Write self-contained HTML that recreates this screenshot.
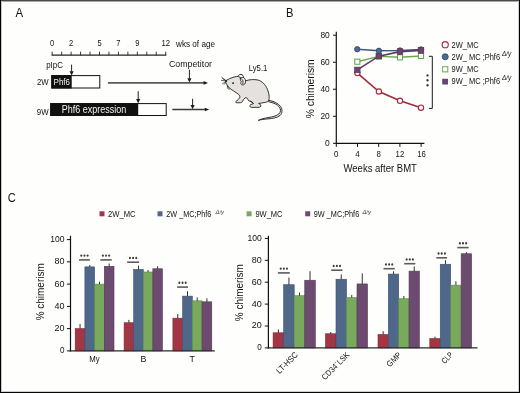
<!DOCTYPE html>
<html><head><meta charset="utf-8"><title>figure</title>
<style>
html,body{margin:0;padding:0;background:#fefefc;}
body{width:520px;height:393px;overflow:hidden;position:relative;}
svg{position:absolute;left:0;top:0;display:block;font-family:"Liberation Sans", sans-serif;will-change:transform;}
.b{position:absolute;}
</style></head><body>
<svg width="520" height="393" viewBox="0 0 520 393">
<text x="15.6" y="16.8" font-size="12.2" text-anchor="start" fill="#121212" textLength="7.6" lengthAdjust="spacingAndGlyphs" >A</text>
<line x1="51.6" y1="55.2" x2="166.32000000000002" y2="55.2" stroke="#222" stroke-width="1.2"/>
<line x1="52.2" y1="55.2" x2="52.2" y2="51.7" stroke="#222" stroke-width="0.9"/>
<line x1="61.66" y1="55.2" x2="61.66" y2="51.7" stroke="#222" stroke-width="0.9"/>
<line x1="71.12" y1="55.2" x2="71.12" y2="51.7" stroke="#222" stroke-width="0.9"/>
<line x1="80.58" y1="55.2" x2="80.58" y2="51.7" stroke="#222" stroke-width="0.9"/>
<line x1="90.04" y1="55.2" x2="90.04" y2="51.7" stroke="#222" stroke-width="0.9"/>
<line x1="99.5" y1="55.2" x2="99.5" y2="51.7" stroke="#222" stroke-width="0.9"/>
<line x1="108.96" y1="55.2" x2="108.96" y2="51.7" stroke="#222" stroke-width="0.9"/>
<line x1="118.42" y1="55.2" x2="118.42" y2="51.7" stroke="#222" stroke-width="0.9"/>
<line x1="127.88" y1="55.2" x2="127.88" y2="51.7" stroke="#222" stroke-width="0.9"/>
<line x1="137.34" y1="55.2" x2="137.34" y2="51.7" stroke="#222" stroke-width="0.9"/>
<line x1="146.8" y1="55.2" x2="146.8" y2="51.7" stroke="#222" stroke-width="0.9"/>
<line x1="156.26" y1="55.2" x2="156.26" y2="51.7" stroke="#222" stroke-width="0.9"/>
<line x1="165.72" y1="55.2" x2="165.72" y2="51.7" stroke="#222" stroke-width="0.9"/>
<text x="52.2" y="46" font-size="8.8" text-anchor="middle" fill="#121212" textLength="4.2" lengthAdjust="spacingAndGlyphs" >0</text>
<text x="71.12" y="46" font-size="8.8" text-anchor="middle" fill="#121212" textLength="4.2" lengthAdjust="spacingAndGlyphs" >2</text>
<text x="99.5" y="46" font-size="8.8" text-anchor="middle" fill="#121212" textLength="4.2" lengthAdjust="spacingAndGlyphs" >5</text>
<text x="118.42" y="46" font-size="8.8" text-anchor="middle" fill="#121212" textLength="4.2" lengthAdjust="spacingAndGlyphs" >7</text>
<text x="137.34" y="46" font-size="8.8" text-anchor="middle" fill="#121212" textLength="4.2" lengthAdjust="spacingAndGlyphs" >9</text>
<text x="165.72" y="46" font-size="8.8" text-anchor="middle" fill="#121212" textLength="8.6" lengthAdjust="spacingAndGlyphs" >12</text>
<text x="176" y="46.5" font-size="8.6" text-anchor="start" fill="#121212" textLength="39" lengthAdjust="spacingAndGlyphs" >wks of age</text>
<text x="46.2" y="67.7" font-size="8.6" text-anchor="start" fill="#121212" textLength="16.8" lengthAdjust="spacingAndGlyphs" >pIpC</text>
<line x1="71.6" y1="64.6" x2="71.6" y2="71.7" stroke="#222" stroke-width="1"/>
<path d="M69.50,71.20 L73.70,71.20 L71.6,75.4 Z" fill="#1a1a1a"/>
<text x="36.9" y="84.8" font-size="8.8" text-anchor="start" fill="#121212" textLength="11.7" lengthAdjust="spacingAndGlyphs" >2W</text>
<rect x="51.8" y="75.6" width="48" height="12.4" fill="#fff" stroke="#111" stroke-width="1"/>
<rect x="51.3" y="75.1" width="20.4" height="13.4" fill="#111"/>
<text x="53.6" y="84.8" font-size="9.4" text-anchor="start" fill="#f4f4f4" textLength="16.4" lengthAdjust="spacingAndGlyphs" >Phf6</text>
<line x1="107.9" y1="82.9" x2="204.1" y2="82.9" stroke="#5a5a5a" stroke-width="1.9"/>
<path d="M203.60,81.10 L203.60,84.70 L208.0,82.9 Z" fill="#1a1a1a"/>
<text x="169" y="67.3" font-size="8.8" text-anchor="start" fill="#121212" textLength="43" lengthAdjust="spacingAndGlyphs" >Competitor</text>
<line x1="189.4" y1="69.6" x2="189.4" y2="78.7" stroke="#222" stroke-width="1"/>
<path d="M187.30,78.20 L191.50,78.20 L189.4,82.4 Z" fill="#1a1a1a"/>
<text x="36.8" y="114.9" font-size="8.8" text-anchor="start" fill="#121212" textLength="11.8" lengthAdjust="spacingAndGlyphs" >9W</text>
<rect x="50.7" y="103.6" width="115.5" height="11.9" fill="#fff" stroke="#111" stroke-width="1"/>
<rect x="50.2" y="103.1" width="88" height="12.9" fill="#111"/>
<text x="61.7" y="112.8" font-size="10.2" text-anchor="start" fill="#f4f4f4" textLength="64.5" lengthAdjust="spacingAndGlyphs" >Phf6 expression</text>
<line x1="138.2" y1="91.2" x2="138.2" y2="99.6" stroke="#222" stroke-width="1"/>
<path d="M136.10,99.10 L140.30,99.10 L138.2,103.3 Z" fill="#1a1a1a"/>
<line x1="172.3" y1="109.5" x2="205.29999999999998" y2="109.5" stroke="#3a3a3a" stroke-width="1.5"/>
<path d="M204.80,107.70 L204.80,111.30 L209.2,109.5 Z" fill="#1a1a1a"/>
<line x1="192.6" y1="98.8" x2="192.6" y2="105.5" stroke="#222" stroke-width="1"/>
<path d="M190.50,105.00 L194.70,105.00 L192.6,109.2 Z" fill="#1a1a1a"/>
<text x="248.7" y="71.4" font-size="8.8" text-anchor="start" fill="#121212" textLength="18.7" lengthAdjust="spacingAndGlyphs" >Ly5.1</text>
<g stroke="#202020" stroke-width="0.9" fill="#e5e1df" stroke-linejoin="round" stroke-linecap="round">
<path d="M268.6,100.3 C273.5,101 278,103.2 280.5,106.4 C282.7,109.3 282.5,113.2 280,115.5 C277.3,117.8 272.5,118.5 268,118.9 C264.5,119.2 261,119.5 258.3,120.4 C261,119 264.5,118.2 268,117.6 C272.3,117 276.3,116 278.8,114 C280.8,112.2 281,109.6 279.5,107.2 C277.2,104.3 273.5,102.6 268.8,101.8 Z"/>
<path d="M237.4,78.2 C237.2,75.8 239.2,74.2 241,74.4 C242.7,74.6 243.7,75.9 243.4,77.8 Z" fill="#f4f2f1"/>
<path d="M226.0,80.6 C228,79.2 231,77.8 234,77.0 C236,76.4 237.5,76.3 238.8,76.6 L245,81 C249,79.5 254,79.2 258,80 C263,81.5 266.5,86 268,91 C269.3,95 269.5,98 268.8,100.2 C268.6,101.2 267.5,101.9 265.5,102.3 C263,102.8 260.5,103.2 258.6,103.5 L259.9,104.1 C261.4,104.9 261.1,107.2 259.4,107.3 L251.8,107.4 C249.6,107.4 249.3,105.3 250.8,104.6 L253.2,103.7 C252.4,102.5 251.4,101.5 250.3,101.2 C248.9,101.1 247.9,100.3 247.9,99.3 C247.6,98.2 246.4,97.4 245.2,97.8 C244,98.6 243.2,100 242.6,101.2 C242.2,102 241.6,102.6 240.6,102.7 L237,102.8 C235.6,102.8 235.3,101.7 236.3,101.2 C237.6,100.4 238.8,99.2 239.6,97.8 C240.3,96.6 239.7,95.4 238.6,94.4 C235.5,92.2 231.5,89.6 229.2,87.8 C227.8,86.6 226.9,85 226.5,83.8 C225.6,82.6 225.3,81.5 226.0,80.6 Z"/>
<path d="M240.4,78.4 C241.4,77.2 243.6,77 244.8,78.6 C245.9,80 245.9,82.6 244.6,84.2 C243.6,85.3 241.8,85.2 241,84 C240.5,83.2 240.8,82.2 241.4,81.6 C240.6,81 240,79.6 240.4,78.4 Z" fill="#f2f0ef"/>
<path d="M241.7,79.0 C242.9,79.6 243.4,81.4 242.9,83.6" fill="none"/>
<path d="M250.3,101.2 C251.6,101.6 252.8,102.4 253.6,103.4" fill="none"/>
<path d="M226,80.6 L221.8,77.4 M226,80.7 L222.6,78.6 M226,80.8 L221.4,80.4 M226.2,81.2 L222.6,83.6 M226.4,81.6 L224.2,84.4 M227.4,85.6 L227.4,88.2 M228.2,86.4 L228.9,88.6" fill="none" stroke="#222" stroke-width="0.7"/>
</g>
<circle cx="233.1" cy="83.1" r="0.95" fill="#111"/>
<circle cx="226.0" cy="80.9" r="0.7" fill="#222"/>
<path d="M228.3,86.9 L228.6,89.6 L229.6,89.4 L229.4,87.6" fill="#f6f6f6" stroke="#333" stroke-width="0.45"/>
<text x="286.1" y="16.8" font-size="12.4" text-anchor="start" fill="#121212" textLength="7.4" lengthAdjust="spacingAndGlyphs" >B</text>
<line x1="336.3" y1="31.8" x2="336.3" y2="143.9" stroke="#111" stroke-width="1.2"/>
<line x1="335.7" y1="143.3" x2="424.4" y2="143.3" stroke="#111" stroke-width="1.2"/>
<line x1="333.0" y1="143.3" x2="336.3" y2="143.3" stroke="#111" stroke-width="1"/>
<text x="329.7" y="146.3" font-size="9.3" text-anchor="end" fill="#121212" textLength="4.7" lengthAdjust="spacingAndGlyphs" >0</text>
<line x1="333.0" y1="116.28" x2="336.3" y2="116.28" stroke="#111" stroke-width="1"/>
<text x="329.7" y="119.28" font-size="9.3" text-anchor="end" fill="#121212" textLength="9.3" lengthAdjust="spacingAndGlyphs" >20</text>
<line x1="333.0" y1="89.26" x2="336.3" y2="89.26" stroke="#111" stroke-width="1"/>
<text x="329.7" y="92.26" font-size="9.3" text-anchor="end" fill="#121212" textLength="9.3" lengthAdjust="spacingAndGlyphs" >40</text>
<line x1="333.0" y1="62.24" x2="336.3" y2="62.24" stroke="#111" stroke-width="1"/>
<text x="329.7" y="65.24" font-size="9.3" text-anchor="end" fill="#121212" textLength="9.3" lengthAdjust="spacingAndGlyphs" >60</text>
<line x1="333.0" y1="35.22" x2="336.3" y2="35.22" stroke="#111" stroke-width="1"/>
<text x="329.7" y="38.22" font-size="9.3" text-anchor="end" fill="#121212" textLength="9.3" lengthAdjust="spacingAndGlyphs" >80</text>
<line x1="336.3" y1="143.3" x2="336.3" y2="146.9" stroke="#111" stroke-width="1"/>
<text x="336.3" y="157.2" font-size="8.4" text-anchor="middle" fill="#121212" textLength="4.4" lengthAdjust="spacingAndGlyphs" >0</text>
<line x1="357.5" y1="143.3" x2="357.5" y2="146.9" stroke="#111" stroke-width="1"/>
<text x="357.5" y="157.2" font-size="8.4" text-anchor="middle" fill="#121212" textLength="4.4" lengthAdjust="spacingAndGlyphs" >4</text>
<line x1="378.7" y1="143.3" x2="378.7" y2="146.9" stroke="#111" stroke-width="1"/>
<text x="378.7" y="157.2" font-size="8.4" text-anchor="middle" fill="#121212" textLength="4.4" lengthAdjust="spacingAndGlyphs" >8</text>
<line x1="399.9" y1="143.3" x2="399.9" y2="146.9" stroke="#111" stroke-width="1"/>
<text x="399.9" y="157.2" font-size="8.4" text-anchor="middle" fill="#121212" textLength="8.6" lengthAdjust="spacingAndGlyphs" >12</text>
<line x1="421.1" y1="143.3" x2="421.1" y2="146.9" stroke="#111" stroke-width="1"/>
<text x="421.6" y="157.2" font-size="8.4" text-anchor="middle" fill="#121212" textLength="8.6" lengthAdjust="spacingAndGlyphs" >16</text>
<text x="380.2" y="171.9" font-size="10.4" text-anchor="middle" fill="#121212" textLength="73.5" lengthAdjust="spacingAndGlyphs" >Weeks after BMT</text>
<text transform="translate(314.2,88.8) rotate(-90)" font-size="10.8" text-anchor="middle" fill="#121212" textLength="59" lengthAdjust="spacingAndGlyphs">% chimerism</text>
<polyline points="357.4,73.1 378.9,91.5 400.0,100.8 421.0,107.7" fill="none" stroke="#a4283a" stroke-width="1.6"/>
<circle cx="357.4" cy="73.1" r="2.65" fill="#fff" stroke="#a4283a" stroke-width="1.1"/>
<circle cx="378.9" cy="91.5" r="2.65" fill="#fff" stroke="#a4283a" stroke-width="1.1"/>
<circle cx="400.0" cy="100.8" r="2.65" fill="#fff" stroke="#a4283a" stroke-width="1.1"/>
<circle cx="421.0" cy="107.7" r="2.65" fill="#fff" stroke="#a4283a" stroke-width="1.1"/>
<polyline points="357.25,49.25 378.9,50.8 400.0,50.5 421.0,49.5" fill="none" stroke="#3a5880" stroke-width="1.4"/>
<circle cx="357.25" cy="49.25" r="2.7" fill="#4d6891" stroke="#2e476b" stroke-width="0.8"/>
<circle cx="378.9" cy="50.8" r="2.7" fill="#4d6891" stroke="#2e476b" stroke-width="0.8"/>
<circle cx="400.0" cy="50.5" r="2.7" fill="#4d6891" stroke="#2e476b" stroke-width="0.8"/>
<circle cx="421.0" cy="49.5" r="2.7" fill="#4d6891" stroke="#2e476b" stroke-width="0.8"/>
<polyline points="357.3,61.7 378.9,56.4 400.0,57.3 421.0,56.0" fill="none" stroke="#68a94a" stroke-width="1.4"/>
<rect x="354.75" y="59.150000000000006" width="5.1" height="5.1" fill="#fff" stroke="#68a94a" stroke-width="1.1"/>
<rect x="376.34999999999997" y="53.85" width="5.1" height="5.1" fill="#fff" stroke="#68a94a" stroke-width="1.1"/>
<rect x="397.45" y="54.75" width="5.1" height="5.1" fill="#fff" stroke="#68a94a" stroke-width="1.1"/>
<rect x="418.45" y="53.45" width="5.1" height="5.1" fill="#fff" stroke="#68a94a" stroke-width="1.1"/>
<polyline points="357.3,69.9 378.85,56.15 400.0,51.6 421.0,50.4" fill="none" stroke="#5c3762" stroke-width="1.6"/>
<rect x="354.5" y="67.10000000000001" width="5.6" height="5.6" fill="#6a4570" stroke="#50305a" stroke-width="0.6"/>
<rect x="376.05" y="53.35" width="5.6" height="5.6" fill="#6a4570" stroke="#50305a" stroke-width="0.6"/>
<rect x="397.2" y="48.800000000000004" width="5.6" height="5.6" fill="#6a4570" stroke="#50305a" stroke-width="0.6"/>
<rect x="418.2" y="47.6" width="5.6" height="5.6" fill="#6a4570" stroke="#50305a" stroke-width="0.6"/>
<path d="M428.9,56.3 H432.3 V108.4 H428.9" fill="none" stroke="#1a1a1a" stroke-width="1"/>
<ellipse cx="427.5" cy="75.4" rx="1.05" ry="1.2" fill="#333"/>
<ellipse cx="427.5" cy="80.2" rx="1.05" ry="1.2" fill="#333"/>
<ellipse cx="427.5" cy="85.2" rx="1.05" ry="1.2" fill="#333"/>
<circle cx="445.2" cy="44.7" r="3.1" fill="#fff" stroke="#a4283a" stroke-width="1.1"/>
<circle cx="445.2" cy="56.8" r="3.05" fill="#4d6891" stroke="#2e476b" stroke-width="0.8"/>
<rect x="442.59999999999997" y="66.7" width="5.2" height="5.2" fill="#fff" stroke="#68a94a" stroke-width="1"/>
<rect x="442.7" y="79.1" width="5.0" height="5.0" fill="#6a4570" stroke="#50305a" stroke-width="0.6"/>
<text x="451.6" y="47.6" font-size="8.3" text-anchor="start" fill="#121212" textLength="27" lengthAdjust="spacingAndGlyphs" >2W_MC</text>
<text x="451.6" y="59.7" font-size="8.3" text-anchor="start" fill="#121212" textLength="48.5" lengthAdjust="spacingAndGlyphs" >2W_ MC ;Phf6</text>
<text x="501.9" y="55.6" font-size="6.4" text-anchor="start" fill="#121212" textLength="9.2" lengthAdjust="spacingAndGlyphs" font-style="italic">Δ/y</text>
<text x="451.6" y="72.0" font-size="8.3" text-anchor="start" fill="#121212" textLength="27" lengthAdjust="spacingAndGlyphs" >9W_MC</text>
<text x="451.6" y="84.3" font-size="8.3" text-anchor="start" fill="#121212" textLength="48.5" lengthAdjust="spacingAndGlyphs" >9W_ MC ;Phf6</text>
<text x="501.9" y="80.2" font-size="6.4" text-anchor="start" fill="#121212" textLength="9.2" lengthAdjust="spacingAndGlyphs" font-style="italic">Δ/y</text>
<text x="7.7" y="202" font-size="13.3" text-anchor="start" fill="#121212" textLength="8.0" lengthAdjust="spacingAndGlyphs" >C</text>
<rect x="99.5" y="211.3" width="5" height="5" fill="#a33645"/>
<text x="108" y="216.7" font-size="8.3" text-anchor="start" fill="#121212" textLength="27.5" lengthAdjust="spacingAndGlyphs" >2W_MC</text>
<rect x="157.5" y="211.3" width="5" height="5" fill="#4f6789"/>
<text x="166.3" y="216.7" font-size="8.3" text-anchor="start" fill="#121212" textLength="45" lengthAdjust="spacingAndGlyphs" >2W _MC;Phf6</text>
<rect x="246.6" y="211.3" width="5" height="5" fill="#78a95c"/>
<text x="255.4" y="216.7" font-size="8.3" text-anchor="start" fill="#121212" textLength="27.1" lengthAdjust="spacingAndGlyphs" >9W_MC</text>
<rect x="305.2" y="211.3" width="5" height="5" fill="#6d4b70"/>
<text x="313.8" y="216.7" font-size="8.3" text-anchor="start" fill="#121212" textLength="45.4" lengthAdjust="spacingAndGlyphs" >9W _MC;Phf6</text>
<text x="215.6" y="213.6" font-size="5.4" text-anchor="start" fill="#3a3a3a" textLength="8.4" lengthAdjust="spacingAndGlyphs" font-style="italic">Δ/y</text>
<text x="362.4" y="213.6" font-size="5.4" text-anchor="start" fill="#3a3a3a" textLength="8.6" lengthAdjust="spacingAndGlyphs" font-style="italic">Δ/y</text>
<rect x="75.20" y="328.64" width="9.70" height="22.26" fill="#a33645" stroke="#842535" stroke-width="0.6"/>
<line x1="80.05" y1="328.64" x2="80.05" y2="323.9" stroke="#262626" stroke-width="0.95"/>
<rect x="84.90" y="266.87" width="9.70" height="84.03" fill="#4f6789" stroke="#3a5070" stroke-width="0.6"/>
<line x1="89.75" y1="266.87" x2="89.75" y2="265.0" stroke="#262626" stroke-width="0.95"/>
<rect x="94.60" y="284.12" width="9.70" height="66.78" fill="#78a95c" stroke="#5e8c46" stroke-width="0.6"/>
<line x1="99.45" y1="284.12" x2="99.45" y2="281.7" stroke="#262626" stroke-width="0.95"/>
<rect x="104.30" y="266.31" width="9.70" height="84.59" fill="#6d4b70" stroke="#533856" stroke-width="0.6"/>
<line x1="109.15" y1="266.31" x2="109.15" y2="263.5" stroke="#262626" stroke-width="0.95"/>
<rect x="124.10" y="322.74" width="9.58" height="28.16" fill="#a33645" stroke="#842535" stroke-width="0.6"/>
<line x1="128.89" y1="322.74" x2="128.89" y2="319.9" stroke="#262626" stroke-width="0.95"/>
<rect x="133.68" y="269.43" width="9.58" height="81.47" fill="#4f6789" stroke="#3a5070" stroke-width="0.6"/>
<line x1="138.47" y1="269.43" x2="138.47" y2="265.6" stroke="#262626" stroke-width="0.95"/>
<rect x="143.26" y="271.99" width="9.58" height="78.91" fill="#78a95c" stroke="#5e8c46" stroke-width="0.6"/>
<line x1="148.05" y1="271.99" x2="148.05" y2="269.9" stroke="#262626" stroke-width="0.95"/>
<rect x="152.84" y="268.76" width="9.58" height="82.14" fill="#6d4b70" stroke="#533856" stroke-width="0.6"/>
<line x1="157.63" y1="268.76" x2="157.63" y2="266.1" stroke="#262626" stroke-width="0.95"/>
<rect x="172.90" y="318.18" width="9.72" height="32.72" fill="#a33645" stroke="#842535" stroke-width="0.6"/>
<line x1="177.76" y1="318.18" x2="177.76" y2="314.1" stroke="#262626" stroke-width="0.95"/>
<rect x="182.62" y="296.14" width="9.72" height="54.76" fill="#4f6789" stroke="#3a5070" stroke-width="0.6"/>
<line x1="187.48" y1="296.14" x2="187.48" y2="291.2" stroke="#262626" stroke-width="0.95"/>
<rect x="192.34" y="300.81" width="9.72" height="50.08" fill="#78a95c" stroke="#5e8c46" stroke-width="0.6"/>
<line x1="197.2" y1="300.81" x2="197.2" y2="297.4" stroke="#262626" stroke-width="0.95"/>
<rect x="202.06" y="301.82" width="9.72" height="49.08" fill="#6d4b70" stroke="#533856" stroke-width="0.6"/>
<line x1="206.92" y1="301.82" x2="206.92" y2="298.3" stroke="#262626" stroke-width="0.95"/>
<rect x="79" y="259.10" width="10.90" height="1.6" fill="#5c5c5c"/>
<ellipse cx="81.30" cy="255.60" rx="1.0" ry="1.2" fill="#3c3c3c"/>
<ellipse cx="84.45" cy="255.60" rx="1.0" ry="1.2" fill="#3c3c3c"/>
<ellipse cx="87.60" cy="255.60" rx="1.0" ry="1.2" fill="#3c3c3c"/>
<rect x="100.3" y="259.10" width="11.40" height="1.6" fill="#5c5c5c"/>
<ellipse cx="102.85" cy="255.60" rx="1.0" ry="1.2" fill="#3c3c3c"/>
<ellipse cx="106.00" cy="255.60" rx="1.0" ry="1.2" fill="#3c3c3c"/>
<ellipse cx="109.15" cy="255.60" rx="1.0" ry="1.2" fill="#3c3c3c"/>
<rect x="127.1" y="261.40" width="12.00" height="1.6" fill="#5c5c5c"/>
<ellipse cx="129.95" cy="257.90" rx="1.0" ry="1.2" fill="#3c3c3c"/>
<ellipse cx="133.10" cy="257.90" rx="1.0" ry="1.2" fill="#3c3c3c"/>
<ellipse cx="136.25" cy="257.90" rx="1.0" ry="1.2" fill="#3c3c3c"/>
<rect x="177.1" y="286.30" width="10.90" height="1.6" fill="#5c5c5c"/>
<ellipse cx="179.40" cy="282.80" rx="1.0" ry="1.2" fill="#3c3c3c"/>
<ellipse cx="182.55" cy="282.80" rx="1.0" ry="1.2" fill="#3c3c3c"/>
<ellipse cx="185.70" cy="282.80" rx="1.0" ry="1.2" fill="#3c3c3c"/>
<line x1="70.5" y1="235.8" x2="70.5" y2="351.5" stroke="#111" stroke-width="1.2"/>
<line x1="69.9" y1="350.9" x2="214.8" y2="350.9" stroke="#2a2a2a" stroke-width="1.4"/>
<line x1="66.9" y1="350.9" x2="70.5" y2="350.9" stroke="#111" stroke-width="1"/>
<text x="64.6" y="353" font-size="9.8" text-anchor="end" fill="#121212" textLength="4.5" lengthAdjust="spacingAndGlyphs" >0</text>
<line x1="66.9" y1="328.64" x2="70.5" y2="328.64" stroke="#111" stroke-width="1"/>
<text x="64.6" y="331" font-size="9.8" text-anchor="end" fill="#121212" textLength="10.0" lengthAdjust="spacingAndGlyphs" >20</text>
<line x1="66.9" y1="306.38" x2="70.5" y2="306.38" stroke="#111" stroke-width="1"/>
<text x="64.6" y="309" font-size="9.8" text-anchor="end" fill="#121212" textLength="10.0" lengthAdjust="spacingAndGlyphs" >40</text>
<line x1="66.9" y1="284.12" x2="70.5" y2="284.12" stroke="#111" stroke-width="1"/>
<text x="64.6" y="287" font-size="9.8" text-anchor="end" fill="#121212" textLength="10.0" lengthAdjust="spacingAndGlyphs" >60</text>
<line x1="66.9" y1="261.86" x2="70.5" y2="261.86" stroke="#111" stroke-width="1"/>
<text x="64.6" y="264" font-size="9.8" text-anchor="end" fill="#121212" textLength="10.0" lengthAdjust="spacingAndGlyphs" >80</text>
<line x1="66.9" y1="239.6" x2="70.5" y2="239.6" stroke="#111" stroke-width="1"/>
<text x="64.6" y="242" font-size="9.8" text-anchor="end" fill="#121212" textLength="14.3" lengthAdjust="spacingAndGlyphs" >100</text>
<text transform="translate(44.3,291.8) rotate(-90)" font-size="10.8" text-anchor="middle" fill="#121212" textLength="57" lengthAdjust="spacingAndGlyphs">% chimerism</text>
<text x="94.5" y="362.1" font-size="8.8" text-anchor="middle" fill="#121212" textLength="10.4" lengthAdjust="spacingAndGlyphs" >My</text>
<text x="143.4" y="361.8" font-size="8.8" text-anchor="middle" fill="#121212" >B</text>
<text x="192.1" y="361.8" font-size="8.8" text-anchor="middle" fill="#121212" >T</text>
<rect x="273.10" y="332.79" width="10.55" height="15.11" fill="#a33645" stroke="#842535" stroke-width="0.6"/>
<line x1="278.38" y1="332.79" x2="278.38" y2="329.5" stroke="#262626" stroke-width="0.95"/>
<rect x="283.65" y="284.72" width="10.55" height="63.18" fill="#4f6789" stroke="#3a5070" stroke-width="0.6"/>
<line x1="288.93" y1="284.72" x2="288.93" y2="277.5" stroke="#262626" stroke-width="0.95"/>
<rect x="294.20" y="295.67" width="10.55" height="52.23" fill="#78a95c" stroke="#5e8c46" stroke-width="0.6"/>
<line x1="299.48" y1="295.67" x2="299.48" y2="292.5" stroke="#262626" stroke-width="0.95"/>
<rect x="304.75" y="280.23" width="10.55" height="67.67" fill="#6d4b70" stroke="#533856" stroke-width="0.6"/>
<line x1="310.02" y1="280.23" x2="310.02" y2="271.2" stroke="#262626" stroke-width="0.95"/>
<rect x="325.50" y="333.77" width="10.50" height="14.13" fill="#a33645" stroke="#842535" stroke-width="0.6"/>
<line x1="330.75" y1="333.77" x2="330.75" y2="332" stroke="#262626" stroke-width="0.95"/>
<rect x="336.00" y="279.24" width="10.50" height="68.66" fill="#4f6789" stroke="#3a5070" stroke-width="0.6"/>
<line x1="341.25" y1="279.24" x2="341.25" y2="274.4" stroke="#262626" stroke-width="0.95"/>
<rect x="346.50" y="297.64" width="10.50" height="50.26" fill="#78a95c" stroke="#5e8c46" stroke-width="0.6"/>
<line x1="351.75" y1="297.64" x2="351.75" y2="294.9" stroke="#262626" stroke-width="0.95"/>
<rect x="357.00" y="283.95" width="10.50" height="63.95" fill="#6d4b70" stroke="#533856" stroke-width="0.6"/>
<line x1="362.25" y1="283.95" x2="362.25" y2="273.4" stroke="#262626" stroke-width="0.95"/>
<rect x="378.00" y="334.54" width="10.35" height="13.36" fill="#a33645" stroke="#842535" stroke-width="0.6"/>
<line x1="383.18" y1="334.54" x2="383.18" y2="331.2" stroke="#262626" stroke-width="0.95"/>
<rect x="388.35" y="274.10" width="10.35" height="73.80" fill="#4f6789" stroke="#3a5070" stroke-width="0.6"/>
<line x1="393.53" y1="274.1" x2="393.53" y2="271.3" stroke="#262626" stroke-width="0.95"/>
<rect x="398.70" y="298.73" width="10.35" height="49.17" fill="#78a95c" stroke="#5e8c46" stroke-width="0.6"/>
<line x1="403.88" y1="298.73" x2="403.88" y2="296" stroke="#262626" stroke-width="0.95"/>
<rect x="409.05" y="271.14" width="10.35" height="76.76" fill="#6d4b70" stroke="#533856" stroke-width="0.6"/>
<line x1="414.23" y1="271.14" x2="414.23" y2="266.5" stroke="#262626" stroke-width="0.95"/>
<rect x="429.80" y="338.59" width="10.45" height="9.31" fill="#a33645" stroke="#842535" stroke-width="0.6"/>
<line x1="435.03" y1="338.59" x2="435.03" y2="336.7" stroke="#262626" stroke-width="0.95"/>
<rect x="440.25" y="264.24" width="10.45" height="83.66" fill="#4f6789" stroke="#3a5070" stroke-width="0.6"/>
<line x1="445.48" y1="264.24" x2="445.48" y2="260.1" stroke="#262626" stroke-width="0.95"/>
<rect x="450.70" y="285.16" width="10.45" height="62.74" fill="#78a95c" stroke="#5e8c46" stroke-width="0.6"/>
<line x1="455.93" y1="285.16" x2="455.93" y2="281.3" stroke="#262626" stroke-width="0.95"/>
<rect x="461.15" y="253.73" width="10.45" height="94.17" fill="#6d4b70" stroke="#533856" stroke-width="0.6"/>
<line x1="466.38" y1="253.73" x2="466.38" y2="252.1" stroke="#262626" stroke-width="0.95"/>
<rect x="277.9" y="272.10" width="11.90" height="1.6" fill="#5c5c5c"/>
<ellipse cx="280.70" cy="268.60" rx="1.0" ry="1.2" fill="#3c3c3c"/>
<ellipse cx="283.85" cy="268.60" rx="1.0" ry="1.2" fill="#3c3c3c"/>
<ellipse cx="287.00" cy="268.60" rx="1.0" ry="1.2" fill="#3c3c3c"/>
<rect x="331.2" y="269.40" width="11.30" height="1.6" fill="#5c5c5c"/>
<ellipse cx="333.70" cy="265.90" rx="1.0" ry="1.2" fill="#3c3c3c"/>
<ellipse cx="336.85" cy="265.90" rx="1.0" ry="1.2" fill="#3c3c3c"/>
<ellipse cx="340.00" cy="265.90" rx="1.0" ry="1.2" fill="#3c3c3c"/>
<rect x="383.5" y="267.90" width="11.20" height="1.6" fill="#5c5c5c"/>
<ellipse cx="385.95" cy="264.40" rx="1.0" ry="1.2" fill="#3c3c3c"/>
<ellipse cx="389.10" cy="264.40" rx="1.0" ry="1.2" fill="#3c3c3c"/>
<ellipse cx="392.25" cy="264.40" rx="1.0" ry="1.2" fill="#3c3c3c"/>
<rect x="404.2" y="262.90" width="11.10" height="1.6" fill="#5c5c5c"/>
<ellipse cx="406.60" cy="259.40" rx="1.0" ry="1.2" fill="#3c3c3c"/>
<ellipse cx="409.75" cy="259.40" rx="1.0" ry="1.2" fill="#3c3c3c"/>
<ellipse cx="412.90" cy="259.40" rx="1.0" ry="1.2" fill="#3c3c3c"/>
<rect x="436.3" y="257.00" width="10.80" height="1.6" fill="#5c5c5c"/>
<ellipse cx="438.55" cy="253.50" rx="1.0" ry="1.2" fill="#3c3c3c"/>
<ellipse cx="441.70" cy="253.50" rx="1.0" ry="1.2" fill="#3c3c3c"/>
<ellipse cx="444.85" cy="253.50" rx="1.0" ry="1.2" fill="#3c3c3c"/>
<rect x="457.3" y="246.80" width="11.40" height="1.6" fill="#5c5c5c"/>
<ellipse cx="459.85" cy="243.30" rx="1.0" ry="1.2" fill="#3c3c3c"/>
<ellipse cx="463.00" cy="243.30" rx="1.0" ry="1.2" fill="#3c3c3c"/>
<ellipse cx="466.15" cy="243.30" rx="1.0" ry="1.2" fill="#3c3c3c"/>
<line x1="268.4" y1="235.8" x2="268.4" y2="348.5" stroke="#111" stroke-width="1.2"/>
<line x1="267.79999999999995" y1="347.9" x2="477.5" y2="347.9" stroke="#2a2a2a" stroke-width="1.4"/>
<line x1="264.79999999999995" y1="347.9" x2="268.4" y2="347.9" stroke="#111" stroke-width="1"/>
<text x="261.7" y="350" font-size="9.8" text-anchor="end" fill="#121212" textLength="4.5" lengthAdjust="spacingAndGlyphs" >0</text>
<line x1="264.79999999999995" y1="326.0" x2="268.4" y2="326.0" stroke="#111" stroke-width="1"/>
<text x="261.7" y="328" font-size="9.8" text-anchor="end" fill="#121212" textLength="10.0" lengthAdjust="spacingAndGlyphs" >20</text>
<line x1="264.79999999999995" y1="304.1" x2="268.4" y2="304.1" stroke="#111" stroke-width="1"/>
<text x="261.7" y="307" font-size="9.8" text-anchor="end" fill="#121212" textLength="10.0" lengthAdjust="spacingAndGlyphs" >40</text>
<line x1="264.79999999999995" y1="282.2" x2="268.4" y2="282.2" stroke="#111" stroke-width="1"/>
<text x="261.7" y="285" font-size="9.8" text-anchor="end" fill="#121212" textLength="10.0" lengthAdjust="spacingAndGlyphs" >60</text>
<line x1="264.79999999999995" y1="260.3" x2="268.4" y2="260.3" stroke="#111" stroke-width="1"/>
<text x="261.7" y="263" font-size="9.8" text-anchor="end" fill="#121212" textLength="10.0" lengthAdjust="spacingAndGlyphs" >80</text>
<line x1="264.79999999999995" y1="238.4" x2="268.4" y2="238.4" stroke="#111" stroke-width="1"/>
<text x="261.7" y="241" font-size="9.8" text-anchor="end" fill="#121212" textLength="14.3" lengthAdjust="spacingAndGlyphs" >100</text>
<text transform="translate(242.8,292.7) rotate(-90)" font-size="10.8" text-anchor="middle" fill="#121212" textLength="57" lengthAdjust="spacingAndGlyphs">% chimerism</text>
<text transform="translate(298.4,355.4) rotate(-45)" font-size="8.3" text-anchor="end" fill="#121212" textLength="26.6" lengthAdjust="spacingAndGlyphs">LT-HSC</text>
<text transform="translate(350,355.4) rotate(-45)" font-size="8.3" text-anchor="end" fill="#121212" textLength="35.5" lengthAdjust="spacingAndGlyphs">CD34⁻LSK</text>
<text transform="translate(401.8,355.4) rotate(-45)" font-size="8.3" text-anchor="end" fill="#121212" textLength="17" lengthAdjust="spacingAndGlyphs">GMP</text>
<text transform="translate(453.6,355.4) rotate(-45)" font-size="8.3" text-anchor="end" fill="#121212" textLength="12.6" lengthAdjust="spacingAndGlyphs">CLP</text>
</svg>
<div class="b" style="left:0;top:1px;width:520px;height:1px;background:#a8a8a8"></div>
<div class="b" style="left:1px;top:1px;width:1px;height:391px;background:#c8c8c8"></div>
<div class="b" style="left:518px;top:1px;width:1px;height:391px;background:#d0d0d0"></div>
<div class="b" style="left:1px;top:391px;width:518px;height:1px;background:#cfcfcf"></div>
<div class="b" style="left:0;top:0;width:520px;height:1px;background:#4a4a4a"></div>
<div class="b" style="left:0;top:0;width:1px;height:393px;background:#000"></div>
<div class="b" style="left:519px;top:0;width:1px;height:393px;background:#000"></div>
<div class="b" style="left:0;top:392px;width:520px;height:1px;background:#050505"></div>
</body></html>
